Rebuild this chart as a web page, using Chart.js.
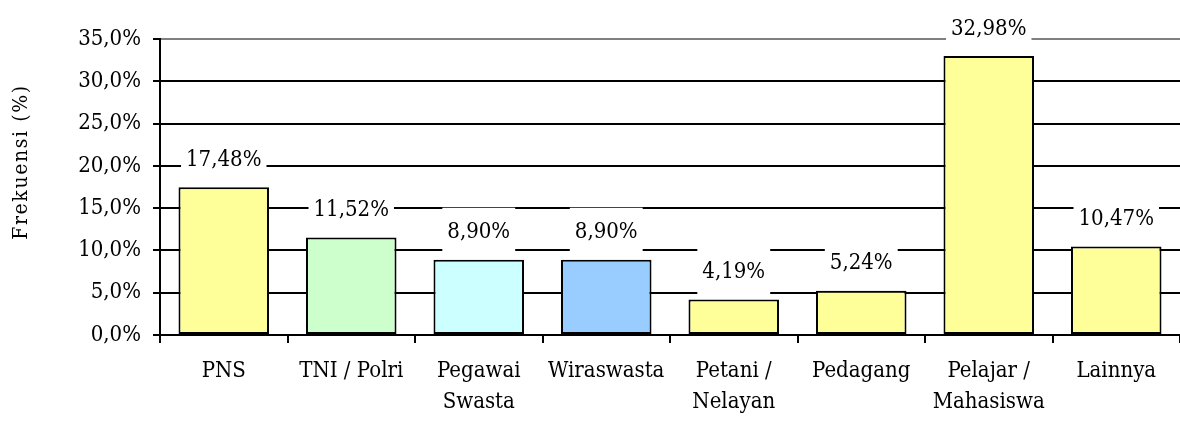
<!DOCTYPE html>
<html>
<head>
<meta charset="utf-8">
<script src="https://cdn.jsdelivr.net/npm/chart.js@4.4.0/dist/chart.umd.min.js"></script>
<style>
  html, body { margin: 0; padding: 0; background: #ffffff; }
  #wrap { width: 1180px; height: 421px; }
</style>
</head>
<body>
<div id="wrap"><canvas id="c" width="1180" height="421"></canvas></div>
<script>
const categories = [
  'PNS',
  'TNI / Polri',
  ['Pegawai', 'Swasta'],
  'Wiraswasta',
  ['Petani /', 'Nelayan'],
  'Pedagang',
  ['Pelajar /', 'Mahasiswa'],
  'Lainnya'
];
const frekuensi = [17.48, 11.52, 8.90, 8.90, 4.19, 5.24, 32.98, 10.47];
const barColors = ['#FFFF99', '#CCFFCC', '#CCFFFF', '#99CCFF', '#FFFF99', '#FFFF99', '#FFFF99', '#FFFF99'];
const yTicks = [0, 5, 10, 15, 20, 25, 30, 35];
const yTitle = 'Frekuensi (%)';

const FONT = "'DejaVu Serif Condensed', 'Liberation Serif', serif";
const fmtPct = (v, d) => v.toFixed(d).replace('.', ',') + '%';

const valueLabels = {
  id: 'valueLabels',
  afterDatasetsDraw(chart) {
    const ctx = chart.ctx;
    const meta = chart.getDatasetMeta(0);
    ctx.save();
    ctx.font = '22px ' + FONT;
    ctx.textAlign = 'center';
    ctx.textBaseline = 'middle';
    meta.data.forEach((bar, i) => {
      const txt = fmtPct(frekuensi[i], 2);
      const w = ctx.measureText(txt).width + 10;
      const cy = bar.y - 28;
      ctx.fillStyle = '#ffffff';
      ctx.fillRect(bar.x - w / 2, cy - 24, w, 48);
      ctx.fillStyle = '#000000';
      ctx.fillText(txt, bar.x, cy + 1);
    });
    ctx.restore();
  }
};

const axisTitle = {
  id: 'axisTitle',
  afterDraw(chart) {
    const ctx = chart.ctx;
    ctx.save();
    ctx.font = '21px ' + FONT;
    if ('letterSpacing' in ctx) ctx.letterSpacing = '1.6px';
    ctx.fillStyle = '#000000';
    ctx.textAlign = 'center';
    ctx.textBaseline = 'middle';
    ctx.translate(22, 162);
    ctx.rotate(-Math.PI / 2);
    ctx.fillText(yTitle, 0, 0);
    ctx.restore();
  }
};

new Chart(document.getElementById('c'), {
  type: 'bar',
  data: {
    labels: categories,
    datasets: [{
      data: frekuensi,
      backgroundColor: barColors,
      borderColor: '#000000',
      borderWidth: 2,
      borderSkipped: false,
      categoryPercentage: 1.0,
      barPercentage: 0.71
    }]
  },
  options: {
    responsive: false,
    devicePixelRatio: 1,
    animation: false,
    layout: { padding: { top: 39, right: 0, bottom: 0, left: 0 } },
    plugins: {
      legend: { display: false },
      tooltip: { enabled: false },
      title: { display: false }
    },
    scales: {
      x: {
        offset: true,
        grid: {
          display: true,
          offset: true,
          drawOnChartArea: false,
          drawTicks: true,
          tickLength: 8,
          color: '#000000',
          lineWidth: 2
        },
        border: { display: true, color: '#000000', width: 2 },
        ticks: {
          color: '#000000',
          font: { family: FONT, size: 22, lineHeight: 1.4 },
          padding: 13,
          maxRotation: 0,
          autoSkip: false
        },
        afterFit(scale) { scale.height = 86; }
      },
      y: {
        min: 0,
        max: 35,
        afterBuildTicks(scale) { scale.ticks = yTicks.map(v => ({ value: v })); },
        grid: {
          display: true,
          drawTicks: true,
          tickLength: 7,
          lineWidth: 2,
          color: (c) => (c.tick && c.tick.value === 35 ? '#808080' : '#000000'),
          tickColor: '#000000'
        },
        border: { display: true, color: '#000000', width: 2 },
        ticks: {
          color: '#000000',
          font: { family: FONT, size: 22 },
          padding: 12,
          callback: (v) => fmtPct(v, 1)
        },
        afterFit(scale) { scale.width = 160; }
      }
    }
  },
  plugins: [valueLabels, axisTitle]
});
</script>
</body>
</html>
